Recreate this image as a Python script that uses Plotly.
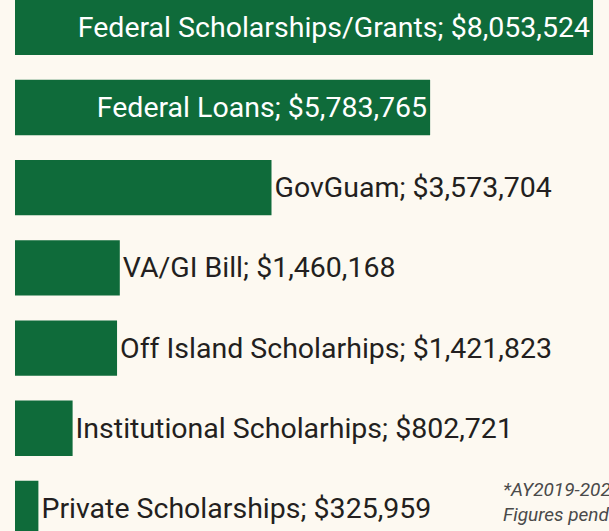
import plotly.graph_objects as go

BG = "#FDF9F1"
GREEN = "#0F6B3A"
INK = "#231F20"
NOTE = "#4A4A4A"
FONT = "Roboto, sans-serif"

categories = [
    "Federal Scholarships/Grants",
    "Federal Loans",
    "GovGuam",
    "VA/GI Bill",
    "Off Island Scholarhips",
    "Institutional Scholarhips",
    "Private Scholarships",
]
amounts = [8053524, 5783765, 3573704, 1460168, 1421823, 802721, 325959]
label_positions = ["inside", "inside", "outside", "outside", "outside", "outside", "outside"]
footnote = "*AY2019-2020<br>Figures pending audit"

labels = [f"{name}; ${value:,}" for name, value in zip(categories, amounts)]

fig = go.Figure(
    go.Bar(
        x=amounts,
        y=categories,
        orientation="h",
        width=0.69,
        marker=dict(color=GREEN, line=dict(width=0)),
        text=labels,
        textposition=label_positions,
        insidetextanchor="end",
        textangle=0,
        constraintext="none",
        cliponaxis=False,
        insidetextfont=dict(color="white", size=28.5, family=FONT),
        outsidetextfont=dict(color=INK, size=28.5, family=FONT),
        hoverinfo="skip",
    )
)

# footnote in the lower right, partly running off the page as in the original
fig.add_annotation(
    text=footnote,
    xref="paper", yref="paper",
    x=501 / 609, y=1 - 476 / 531,
    xanchor="left", yanchor="top",
    align="left",
    showarrow=False,
    font=dict(size=19, color=NOTE, family=FONT, style="italic"),
)

fig.update_xaxes(range=[-209000, 8276000], visible=False, fixedrange=True)
fig.update_yaxes(
    type="category",
    categoryorder="array",
    categoryarray=categories,
    range=[6.281, -0.340],
    visible=False,
    fixedrange=True,
)
fig.update_layout(
    width=609,
    height=531,
    margin=dict(l=0, r=0, t=0, b=0),
    paper_bgcolor=BG,
    plot_bgcolor=BG,
    showlegend=False,
)

fig.write_html(
    "out.html",
    config={"displayModeBar": False},
    post_script="document.body.style.margin='0';document.body.style.overflow='hidden';",
)
